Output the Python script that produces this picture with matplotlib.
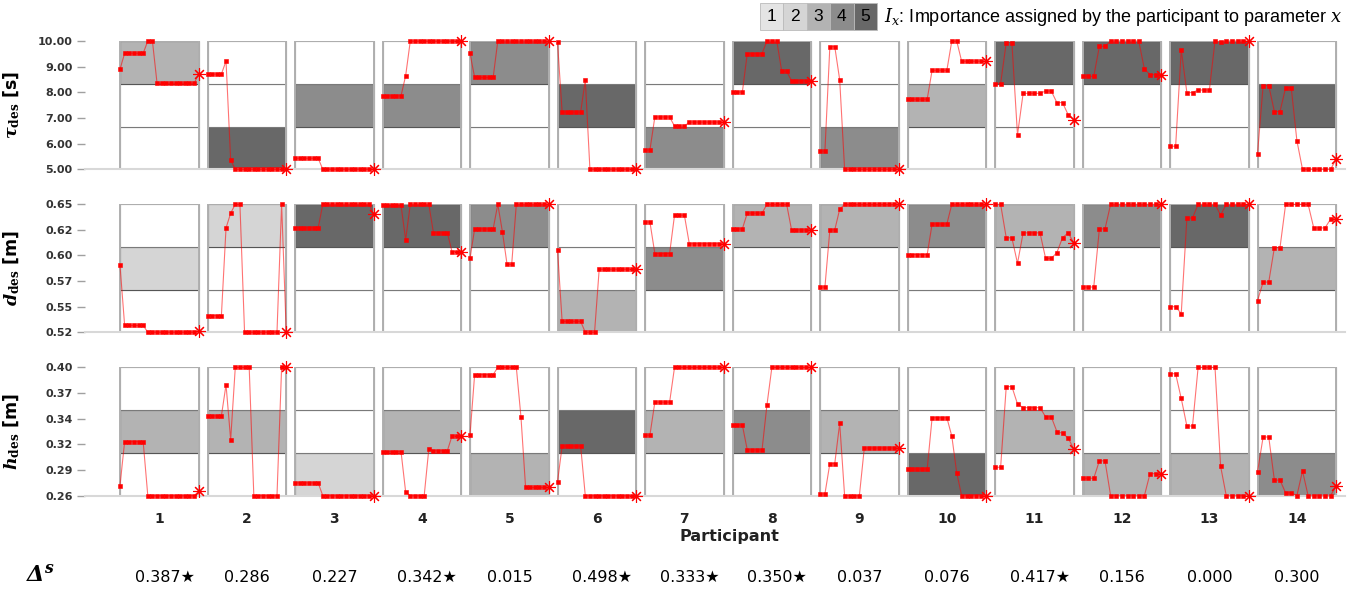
import numpy as np
import matplotlib
matplotlib.use("Agg")
import matplotlib.pyplot as plt
from matplotlib.patches import Rectangle

plt.rcParams['font.family'] = ['DejaVu Sans']
plt.rcParams['mathtext.fontset'] = 'dejavuserif'

participants = list(range(1, 15))

# importance level (1-5) and the highlighted band (0 low, 1 middle, 2 high)
imp_tau = [3, 5, 4, 4, 4, 5, 4, 5, 4, 3, 5, 5, 5, 5]
band_tau = [2, 0, 1, 1, 2, 1, 0, 2, 0, 1, 2, 2, 2, 1]
imp_d = [2, 2, 5, 5, 4, 3, 4, 3, 3, 4, 3, 4, 5, 3]
band_d = [1, 2, 2, 2, 2, 0, 1, 2, 2, 2, 2, 2, 2, 1]
imp_h = [3, 3, 2, 3, 3, 5, 3, 4, 3, 5, 3, 3, 3, 4]
band_h = [1, 1, 0, 1, 0, 1, 1, 1, 1, 0, 1, 0, 0, 0]

importance_levels = [1, 2, 3, 4, 5]
importance_colors = ['#e4e4e4', '#d5d5d5', '#b3b3b3', '#8c8c8c', '#686868']

tau_des = [
    [8.90, 9.52, 9.52, 9.52, 9.52, 9.52, 10.00, 10.00, 8.35, 8.35, 8.35, 8.35, 8.35, 8.35, 8.35, 8.35, 8.35, 8.71],
    [8.71, 8.71, 8.71, 8.71, 9.22, 5.36, 5.00, 5.00, 5.00, 5.00, 5.00, 5.00, 5.00, 5.00, 5.00, 5.00, 5.00, 5.00],
    [5.43, 5.43, 5.43, 5.43, 5.43, 5.43, 5.00, 5.00, 5.00, 5.00, 5.00, 5.00, 5.00, 5.00, 5.00, 5.00, 5.00, 5.00],
    [7.86, 7.86, 7.86, 7.86, 7.86, 8.65, 10.00, 10.00, 10.00, 10.00, 10.00, 10.00, 10.00, 10.00, 10.00, 10.00, 10.00, 10.00],
    [9.52, 8.58, 8.58, 8.58, 8.58, 8.58, 10.00, 10.00, 10.00, 10.00, 10.00, 10.00, 10.00, 10.00, 10.00, 10.00, 10.00, 10.00],
    [9.95, 7.23, 7.23, 7.23, 7.23, 7.23, 8.49, 5.00, 5.00, 5.00, 5.00, 5.00, 5.00, 5.00, 5.00, 5.00, 5.00, 5.00],
    [5.75, 5.75, 7.04, 7.04, 7.04, 7.04, 6.68, 6.68, 6.68, 6.84, 6.84, 6.84, 6.84, 6.84, 6.84, 6.84, 6.84],
    [8.01, 8.01, 8.01, 9.51, 9.51, 9.51, 9.51, 10.00, 10.00, 10.00, 8.82, 8.82, 8.45, 8.45, 8.45, 8.45, 8.45],
    [5.71, 5.71, 9.78, 9.78, 8.49, 5.00, 5.00, 5.00, 5.00, 5.00, 5.00, 5.00, 5.00, 5.00, 5.00, 5.00, 5.00],
    [7.73, 7.73, 7.73, 7.73, 7.73, 8.86, 8.86, 8.86, 8.86, 10.00, 10.00, 9.21, 9.21, 9.21, 9.21, 9.21, 9.21],
    [8.34, 8.34, 9.94, 9.94, 6.34, 7.96, 7.96, 7.96, 7.96, 8.05, 8.05, 7.60, 7.60, 7.13, 6.92],
    [8.62, 8.62, 8.62, 9.79, 9.79, 10.00, 10.00, 10.00, 10.00, 10.00, 10.00, 8.91, 8.69, 8.69, 8.69],
    [5.90, 5.90, 9.65, 7.99, 7.99, 8.09, 8.09, 8.09, 10.00, 9.97, 10.00, 10.00, 10.00, 10.00, 10.00],
    [5.60, 8.26, 8.26, 7.25, 7.25, 8.18, 8.18, 6.12, 5.00, 5.00, 5.00, 5.00, 5.00, 5.00, 5.40],
]

d_des = [
    [0.588, 0.527, 0.527, 0.527, 0.527, 0.527, 0.520, 0.520, 0.520, 0.520, 0.520, 0.520, 0.520, 0.520, 0.520, 0.520, 0.520, 0.521],
    [0.537, 0.537, 0.537, 0.537, 0.626, 0.641, 0.650, 0.650, 0.520, 0.520, 0.520, 0.520, 0.520, 0.520, 0.520, 0.520, 0.650, 0.520],
    [0.626, 0.626, 0.626, 0.626, 0.626, 0.626, 0.650, 0.650, 0.650, 0.650, 0.650, 0.650, 0.650, 0.650, 0.650, 0.650, 0.650, 0.640],
    [0.649, 0.649, 0.649, 0.649, 0.649, 0.614, 0.650, 0.650, 0.650, 0.650, 0.650, 0.621, 0.621, 0.621, 0.621, 0.602, 0.602, 0.602],
    [0.595, 0.625, 0.625, 0.625, 0.625, 0.625, 0.650, 0.622, 0.589, 0.589, 0.650, 0.650, 0.650, 0.650, 0.650, 0.650, 0.650, 0.650],
    [0.604, 0.531, 0.531, 0.531, 0.531, 0.531, 0.520, 0.520, 0.520, 0.584, 0.584, 0.584, 0.584, 0.584, 0.584, 0.584, 0.584, 0.584],
    [0.632, 0.632, 0.600, 0.600, 0.600, 0.600, 0.639, 0.639, 0.639, 0.610, 0.610, 0.610, 0.610, 0.610, 0.610, 0.610, 0.610],
    [0.625, 0.625, 0.625, 0.641, 0.641, 0.641, 0.641, 0.650, 0.650, 0.650, 0.650, 0.650, 0.624, 0.624, 0.624, 0.624, 0.624],
    [0.566, 0.566, 0.624, 0.624, 0.645, 0.650, 0.650, 0.650, 0.650, 0.650, 0.650, 0.650, 0.650, 0.650, 0.650, 0.650, 0.650],
    [0.599, 0.599, 0.599, 0.599, 0.599, 0.630, 0.630, 0.630, 0.630, 0.650, 0.650, 0.650, 0.650, 0.650, 0.650, 0.650, 0.650],
    [0.650, 0.650, 0.616, 0.616, 0.590, 0.621, 0.621, 0.621, 0.621, 0.595, 0.595, 0.601, 0.616, 0.621, 0.611],
    [0.566, 0.566, 0.566, 0.625, 0.625, 0.650, 0.650, 0.650, 0.650, 0.650, 0.650, 0.650, 0.650, 0.650, 0.650],
    [0.546, 0.546, 0.539, 0.636, 0.636, 0.650, 0.650, 0.650, 0.650, 0.639, 0.650, 0.650, 0.650, 0.650, 0.650],
    [0.552, 0.571, 0.571, 0.606, 0.606, 0.650, 0.650, 0.650, 0.650, 0.650, 0.626, 0.626, 0.626, 0.635, 0.635],
]

h_des = [
    [0.271, 0.319, 0.319, 0.319, 0.319, 0.319, 0.260, 0.260, 0.260, 0.260, 0.260, 0.260, 0.260, 0.260, 0.260, 0.260, 0.260, 0.265],
    [0.347, 0.347, 0.347, 0.347, 0.381, 0.321, 0.400, 0.400, 0.400, 0.400, 0.260, 0.260, 0.260, 0.260, 0.260, 0.260, 0.400, 0.400],
    [0.274, 0.274, 0.274, 0.274, 0.274, 0.274, 0.260, 0.260, 0.260, 0.260, 0.260, 0.260, 0.260, 0.260, 0.260, 0.260, 0.260, 0.260],
    [0.308, 0.308, 0.308, 0.308, 0.308, 0.264, 0.260, 0.260, 0.260, 0.260, 0.311, 0.309, 0.309, 0.309, 0.309, 0.325, 0.325, 0.325],
    [0.326, 0.392, 0.392, 0.392, 0.392, 0.392, 0.400, 0.400, 0.400, 0.400, 0.400, 0.346, 0.269, 0.269, 0.269, 0.269, 0.269, 0.269],
    [0.275, 0.314, 0.314, 0.314, 0.314, 0.314, 0.260, 0.260, 0.260, 0.260, 0.260, 0.260, 0.260, 0.260, 0.260, 0.260, 0.260, 0.260],
    [0.326, 0.326, 0.362, 0.362, 0.362, 0.362, 0.400, 0.400, 0.400, 0.400, 0.400, 0.400, 0.400, 0.400, 0.400, 0.400, 0.400],
    [0.337, 0.337, 0.337, 0.310, 0.310, 0.310, 0.310, 0.359, 0.400, 0.400, 0.400, 0.400, 0.400, 0.400, 0.400, 0.400, 0.400],
    [0.262, 0.262, 0.295, 0.295, 0.339, 0.260, 0.260, 0.260, 0.260, 0.312, 0.312, 0.312, 0.312, 0.312, 0.312, 0.312, 0.312],
    [0.289, 0.289, 0.289, 0.289, 0.289, 0.345, 0.345, 0.345, 0.345, 0.325, 0.285, 0.260, 0.260, 0.260, 0.260, 0.260, 0.260],
    [0.291, 0.291, 0.379, 0.379, 0.360, 0.356, 0.356, 0.356, 0.356, 0.346, 0.346, 0.330, 0.328, 0.323, 0.311],
    [0.279, 0.279, 0.279, 0.298, 0.298, 0.260, 0.260, 0.260, 0.260, 0.260, 0.260, 0.260, 0.284, 0.284, 0.284],
    [0.393, 0.393, 0.366, 0.336, 0.336, 0.400, 0.400, 0.400, 0.400, 0.292, 0.260, 0.260, 0.260, 0.260, 0.260],
    [0.286, 0.324, 0.324, 0.277, 0.277, 0.263, 0.263, 0.260, 0.287, 0.260, 0.260, 0.260, 0.260, 0.260, 0.271],
]

delta_s = [0.387, 0.286, 0.227, 0.342, 0.015, 0.498, 0.333, 0.350, 0.037, 0.076, 0.417, 0.156, 0.000, 0.300]
delta_star = [True, False, False, True, False, True, True, True, False, False, True, False, False, False]

row_labels = [r'$\mathbfit{\tau}_{\mathbf{des}}$ [s]',
              r'$\mathbfit{d}_{\mathbf{des}}$ [m]',
              r'$\mathbfit{h}_{\mathbf{des}}$ [m]']
row_limits = [(5.0, 10.0), (0.52, 0.65), (0.26, 0.40)]
row_series = [tau_des, d_des, h_des]
row_imp = [imp_tau, imp_d, imp_h]
row_band = [band_tau, band_d, band_h]

W, H = 1354, 589
fig = plt.figure(figsize=(W / 100, H / 100), dpi=100)
fig.patch.set_facecolor('white')

ax_left = 85 / W
ax_width = (1345 - 85) / W
row_px = [(41, 169.3), (204.3, 332.3), (367.3, 495.7)]
half = 0.45

axes = []
for r in range(3):
    top_px, bot_px = row_px[r]
    ax = fig.add_axes([ax_left, 1 - bot_px / H, ax_width, (bot_px - top_px) / H])
    axes.append(ax)
    lo, hi = row_limits[r]
    ax.set_xlim(0.15, 14.55)
    ax.set_ylim(lo, hi)
    third = (hi - lo) / 3
    for i, p in enumerate(participants):
        for b in range(3):
            fc = importance_colors[row_imp[r][i] - 1] if row_band[r][i] == b else 'white'
            ec = '#555555' if row_band[r][i] == b else '#7a7a7a'
            ax.add_patch(Rectangle((p - half, lo + b * third), 2 * half, third,
                                   facecolor=fc, edgecolor=ec, lw=0.8, zorder=1))
        ax.add_patch(Rectangle((p - half, lo), 2 * half, hi - lo, facecolor='none',
                               edgecolor='#b0b0b0', lw=1.4, zorder=2))
        vals = row_series[r][i]
        xs = np.linspace(p - half, p + half, len(vals))
        ax.plot(xs, vals, '-', color='red', alpha=0.55, lw=0.8, zorder=3, clip_on=False)
        ax.plot(xs[:-1], vals[:-1], 's', color='red', mec='red', ms=2.4, mew=0.4, zorder=4, clip_on=False)
        ax.plot(xs[-1:], vals[-1:], linestyle='none', marker=(8, 2, 0), color='red',
                ms=9, mew=0.8, zorder=5, clip_on=False)
    ticks = np.linspace(lo, hi, 6)
    ax.set_yticks(ticks)
    ax.set_yticklabels(['%.2f' % t for t in ticks], fontsize=8, fontweight='bold', color='#333333')
    ax.tick_params(axis='y', direction='out', length=6, width=1.0, color='#a0a0a0', pad=3)
    for s in ['top', 'right', 'left']:
        ax.spines[s].set_visible(False)
    ax.spines['bottom'].set_color('#d8d8d8')
    ax.spines['bottom'].set_linewidth(1.5)
    ax.set_ylabel(row_labels[r], fontsize=12.5, fontweight='bold')
    ax.yaxis.set_label_coords(-0.05, 0.5)
    if r < 2:
        ax.set_xticks([])
    else:
        ax.set_xticks(participants)
        ax.set_xticklabels([str(p) for p in participants], fontsize=10, fontweight='bold', color='#222222')
        ax.tick_params(axis='x', length=0, pad=12)

fig.text(729 / W, 1 - 537 / H, 'Participant', ha='center', va='center', fontsize=11.5, fontweight='bold', color='#222222')

# Delta^s row
fig.text(40 / W, 1 - 574 / H, r'$\mathbfit{\Delta}^{\mathbfit{s}}$', ha='center', va='center', fontsize=16)
x_to_fig = lambda p: ax_left + (p - 0.15) / (14.55 - 0.15) * ax_width
for p, v, st in zip(participants, delta_s, delta_star):
    txt = '%.3f' % v + ('\u2605' if st else '')
    fig.text(x_to_fig(p) + (0.004 if st else 0), 1 - 577 / H, txt, ha='center', va='center', fontsize=11.5)

# importance legend
sq_w = 23.4
for k, (lvl, col) in enumerate(zip(importance_levels, importance_colors)):
    x0 = 760 + k * sq_w
    fig.patches.append(Rectangle((x0 / W, 1 - 30 / H), sq_w / W, 27 / H, transform=fig.transFigure,
                                 facecolor=col, edgecolor='#bbbbbb', lw=0.6))
    fig.text((x0 + sq_w / 2) / W, 1 - 16.5 / H, str(lvl), ha='center', va='center', fontsize=12.5,
             family='Liberation Sans')
fig.text(884 / W, 1 - 17 / H, r'$I_x$: Importance assigned by the participant to parameter $x$',
         ha='left', va='center', fontsize=13, family='Liberation Sans')

fig.savefig('out.png', dpi=100)
